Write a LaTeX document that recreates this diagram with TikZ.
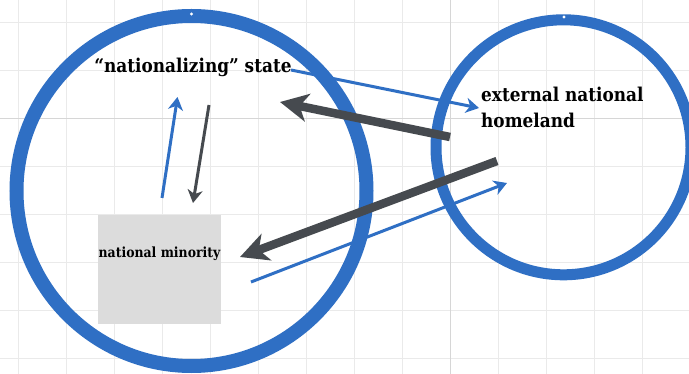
\documentclass[tikz,border=0pt]{standalone}
\usepackage{fontspec}
\newfontfamily\lblfont[FakeStretch=0.89]{DejaVu Serif}
\usepackage{tikz}
\usetikzlibrary{arrows.meta,positioning}
\usepackage{xcolor}
\definecolor{hlblue}{RGB}{47,111,196}
\definecolor{hldark}{RGB}{70,74,79}
\definecolor{hlgrid}{RGB}{234,234,234}
\definecolor{hlgridmajor}{RGB}{214,214,214}
\definecolor{hlbox}{RGB}{220,220,220}
\tikzstyle{ring} = [draw=hlblue]
\tikzstyle{title} = [font=\lblfont\bfseries\fontsize{19}{26}\selectfont, text=black, inner sep=0pt]
\tikzstyle{minbox} = [rectangle, fill=hlbox, minimum width=123pt, minimum height=109pt, inner sep=0pt]
\tikzstyle{thinarrow} = [line width=3pt, -{Stealth[length=13pt,width=15pt,inset=4pt]}, color=hlblue]
\tikzstyle{bigarrow} = [line width=8.5pt, -{Stealth[length=28pt,width=28pt,inset=8pt]}, color=hldark]

\begin{document}
\begin{tikzpicture}[x=1pt, y=-1pt]
\useasboundingbox (0,0) rectangle (689,374);
\clip (0,0) rectangle (689,374);
\fill[white] (0,0) rectangle (689,374);

% Grid
\foreach \gx in {0,...,13} {
  \draw[hlgrid, line width=1pt] (18.7+48*\gx,0) -- (18.7+48*\gx,374);
}
\foreach \gy in {0,...,7} {
  \draw[hlgrid, line width=1pt] (0,23+48*\gy) -- (689,23+48*\gy);
}
\draw[hlgridmajor, line width=1pt] (450.7,0) -- (450.7,374);
\draw[hlgridmajor, line width=1pt] (0,119) -- (689,119);

% Circles
\draw[ring, line width=14pt] (191.5,191) circle [radius=175];
\draw[ring, line width=11pt] (563.5,147.3) circle [radius=127.5];
\fill[white] (191.5,14) circle [radius=1.6];
\fill[white] (564,17) circle [radius=1.6];

% Nodes
\node (state) [title, anchor=base] at (193,73) {“nationalizing” state};
\node (homeland) [title, anchor=base west, align=left] at (481,128) {external national\\homeland};
\node (minority) [minbox] at (159.5,269.5) {};
\node (minlabel) [title, font=\lblfont\bfseries\fontsize{14}{16}\selectfont, anchor=base] at (159.5,258) {national minority};

% Arrow ends
\coordinate (stateout) at (291,70);
\coordinate (homein) at (479,108);
\coordinate (homeout) at (450,137);
\coordinate (statein) at (280,102);
\coordinate (homeout2) at (497,161);
\coordinate (minin) at (240,257);
\coordinate (minout) at (251,282);
\coordinate (homein2) at (507,183);
\coordinate (upfrom) at (162,198);
\coordinate (upto) at (177.5,97);
\coordinate (downfrom) at (209,105);
\coordinate (downto) at (193,203);

% Arrows
\draw[thinarrow] (stateout) -- (homein);
\draw[bigarrow] (homeout) -- (statein);
\draw[bigarrow] (homeout2) -- (minin);
\draw[thinarrow] (minout) -- (homein2);
\draw[thinarrow] (upfrom) -- (upto);
\draw[thinarrow, color=hldark] (downfrom) -- (downto);
\end{tikzpicture}
\end{document}
